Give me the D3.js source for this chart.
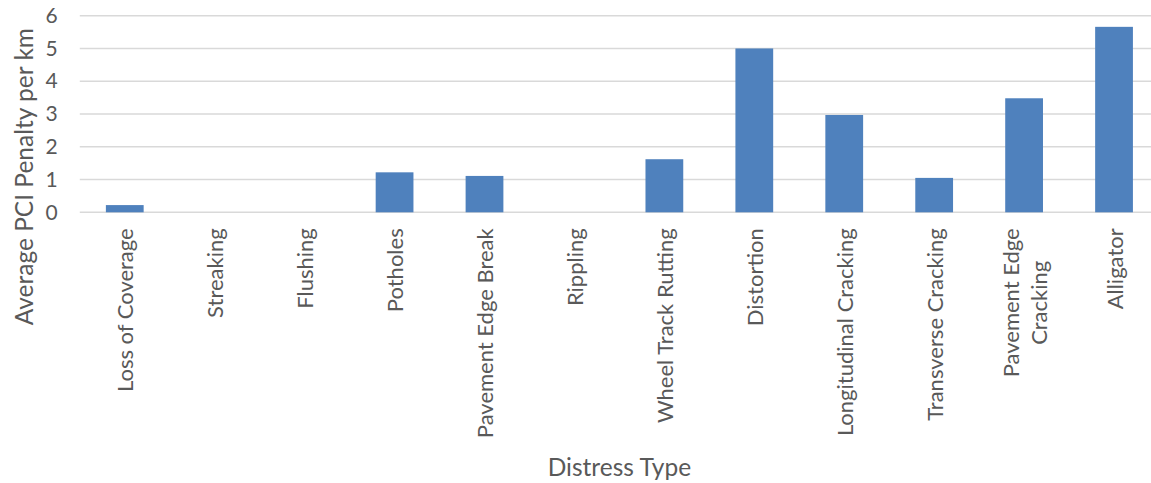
<!DOCTYPE html>
<html>
<head>
<meta charset="utf-8">
<script src="https://cdn.jsdelivr.net/npm/d3@7"></script>
<style>
  html, body { margin: 0; padding: 0; background: #ffffff; }
  svg { display: block; }
  text { font-family: Lato, "Open Sans", "DejaVu Sans", sans-serif; fill: #595959; }
</style>
</head>
<body>
<svg id="chart" width="1151" height="483"></svg>
<script>
// Distress categories (a "\n" marks a wrapped label line)
const categories = [
  "Loss of Coverage", "Streaking", "Flushing", "Potholes",
  "Pavement Edge Break", "Rippling", "Wheel Track Rutting", "Distortion",
  "Longitudinal Cracking", "Transverse Cracking", "Pavement Edge\nCracking", "Alligator"
];
// Average PCI penalty per km for each distress type
const penalties = [0.22, 0, 0, 1.22, 1.11, 0, 1.62, 5.0, 2.97, 1.05, 3.48, 5.66];
const yTicks = [0, 1, 2, 3, 4, 5, 6];
const yTitle = "Average PCI Penalty per km";
const xTitle = "Distress Type";

const svg = d3.select("#chart");
const plot = { left: 79.8, right: 1159, top: 15.7, bottom: 212.3 };

const x = d3.scaleBand()
  .domain(categories)
  .range([plot.left, plot.right])
  .paddingInner(0.58)
  .paddingOuter(0.29);

const y = d3.scaleLinear()
  .domain([0, 6])
  .range([plot.bottom, plot.top]);

// horizontal gridlines
svg.append("g")
  .selectAll("line")
  .data(yTicks)
  .join("line")
  .attr("x1", plot.left)
  .attr("x2", plot.right)
  .attr("y1", d => y(d))
  .attr("y2", d => y(d))
  .attr("stroke", "#d9d9d9")
  .attr("stroke-width", 1.4);

// value axis labels
const yAxis = svg.append("g")
  .attr("transform", `translate(${plot.left - 22},0)`)
  .call(d3.axisLeft(y).tickValues(yTicks).tickFormat(d3.format("d")).tickSize(0).tickPadding(0));
yAxis.select(".domain").remove();
yAxis.selectAll("text")
  .style("font-size", "21px")
  .attr("fill", "#595959");

// bars
svg.append("g")
  .selectAll("rect")
  .data(categories.map((c, i) => ({ c, v: penalties[i] })))
  .join("rect")
  .attr("x", d => x(d.c))
  .attr("width", x.bandwidth())
  .attr("y", d => y(d.v))
  .attr("height", d => y(0) - y(d.v))
  .attr("fill", "#4f81bd");

// category labels, rotated; the end of the longest line sits just under the axis
const labelTop = plot.bottom + 16;
const lineGap = 28;
const catG = svg.append("g");
categories.forEach(c => {
  const lines = c.split("\n");
  const cx = x(c) + x.bandwidth() / 2;
  const g = catG.append("g");
  const texts = lines.map((ln, i) => g.append("text")
    .style("font-size", "22px")
    .attr("text-anchor", "middle")
    .attr("dominant-baseline", "central")
    .text(ln));
  const maxLen = d3.max(texts, t => t.node().getComputedTextLength());
  texts.forEach((t, i) => {
    const off = (i - (lines.length - 1) / 2) * lineGap;
    t.attr("transform", `translate(${cx + off},${labelTop + maxLen / 2}) rotate(-90)`);
  });
});

// axis titles
svg.append("text")
  .attr("transform", `translate(33,28) rotate(-90)`)
  .attr("text-anchor", "end")
  .style("font-size", "24.5px")
  .text(yTitle);

svg.append("text")
  .attr("x", (plot.left + plot.right) / 2)
  .attr("y", 466)
  .attr("text-anchor", "middle")
  .attr("dominant-baseline", "central")
  .style("font-size", "24.5px")
  .text(xTitle);
</script>
</body>
</html>
